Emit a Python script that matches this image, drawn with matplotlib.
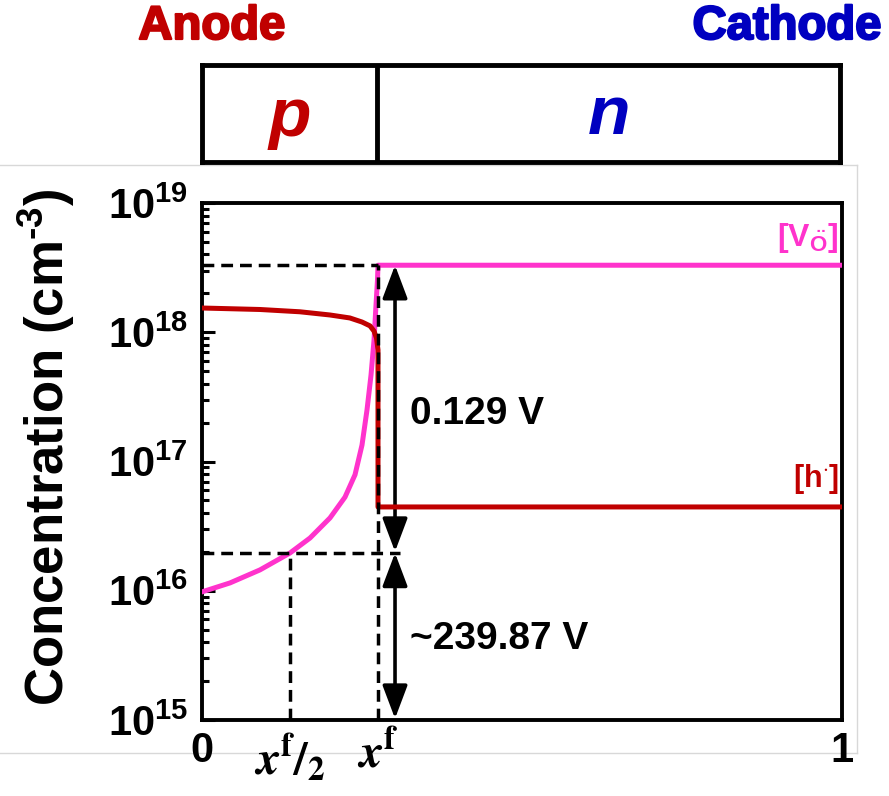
import matplotlib
matplotlib.use("Agg")
import matplotlib.pyplot as plt
import matplotlib.patheffects as pe
from matplotlib.lines import Line2D

plt.rcParams["font.family"] = ["Liberation Sans", "DejaVu Sans"]
plt.rcParams["font.weight"] = "bold"
plt.rcParams["axes.labelweight"] = "bold"
plt.rcParams["mathtext.fontset"] = "custom"
plt.rcParams["mathtext.rm"] = "Liberation Sans:bold"
plt.rcParams["mathtext.bf"] = "Liberation Sans:bold"
plt.rcParams["mathtext.it"] = "Liberation Sans:bold:italic"

RED = "#C00000"
MAGENTA = "#FF33CC"
BLUE = "#0000C0"

# junction position (fraction of film thickness)
X_F = 0.275

# hole concentration in the p region, then the step into n
hole_x = [0.0, 0.0906, 0.153, 0.2, 0.231, 0.25, 0.2625, 0.2688, 0.2727, X_F, X_F, 1.0]
hole_c = [1.54e18, 1.50e18, 1.44e18, 1.36e18, 1.29e18, 1.20e18, 1.12e18, 1.02e18,
          9.0e17, 7.3e17, 4.45e16, 4.45e16]

# oxygen vacancy concentration
vac_x = [0.0, 0.0438, 0.0906, 0.1375, 0.1688, 0.2, 0.2234, 0.2391, 0.25, 0.2578,
         0.2641, 0.2688, 0.2719, 0.2742, X_F, 1.0]
vac_c = [9.8e15, 1.15e16, 1.45e16, 1.96e16, 2.56e16, 3.66e16, 5.3e16, 7.9e16, 1.34e17,
         2.5e17, 4.67e17, 8.7e17, 1.63e18, 2.54e18, 3.3e18, 3.3e18]

vac_bulk = 3.3e18
vac_half = 1.96e16
arrow_x = 0.3016
y_lo, y_hi = 1e15, 1e19

decades = [1e15, 1e16, 1e17, 1e18, 1e19]
decade_labels = [r"$\mathbf{10^{15}}$", r"$\mathbf{10^{16}}$", r"$\mathbf{10^{17}}$",
                 r"$\mathbf{10^{18}}$", r"$\mathbf{10^{19}}$"]
x_ticks = [0.0, X_F / 2, X_F, 1.0]

W, H = 889, 796
fig = plt.figure(figsize=(W / 100, H / 100), dpi=100)

L, R, T, B = 202, 842, 203, 720
ax = fig.add_axes([L / W, 1 - B / H, (R - L) / W, (B - T) / H])

# concentration profiles
ax.plot(vac_x, vac_c, color=MAGENTA, lw=3.6, solid_joinstyle="round", zorder=3)
ax.plot(hole_x, hole_c, color=RED, lw=3.6, solid_joinstyle="round", zorder=4)

# guide lines
dash = dict(color="black", lw=2.5, ls=(0, (3.4, 2.0)), zorder=5)
ax.plot([0, X_F], [vac_bulk, vac_bulk], **dash)
ax.plot([X_F, X_F], [y_lo, vac_bulk], **dash)
ax.plot([0, 0.31], [vac_half, vac_half], **dash)
ax.plot([X_F / 2, X_F / 2], [y_lo, vac_half], **dash)

# potential drop arrows
arrow = dict(arrowstyle="<|-|>,head_length=0.85,head_width=0.32", color="black",
             lw=2.6, shrinkA=0, shrinkB=1, mutation_scale=24)
ax.annotate("", xy=(arrow_x, vac_half), xytext=(arrow_x, vac_bulk), arrowprops=arrow)
ax.annotate("", xy=(arrow_x, y_lo), xytext=(arrow_x, vac_half), arrowprops=arrow)
ax.text(0.325, 10 ** 17.37, "0.129 V", fontsize=28, va="center", ha="left")
ax.text(0.325, 10 ** 15.63, "~239.87 V", fontsize=28, va="center", ha="left")

ax.text(0.995, 10 ** 18.6, r"$\mathbf{[V_{\ddot{O}}]}$", color=MAGENTA,
        fontsize=23, ha="right", va="bottom")
ax.text(0.995, 10 ** 16.73, r"[h$^{\mathbf{\cdot}}$]", color=RED,
        fontsize=22, ha="right", va="bottom")

ax.set_yscale("log")
ax.set_ylim(y_lo, y_hi)
ax.set_xlim(0, 1)
ax.set_yticks(decades)
ax.set_yticklabels(decade_labels, fontsize=30)
ax.tick_params(axis="y", which="major", direction="in", length=9, width=2.2, pad=10)
ax.tick_params(axis="y", which="minor", direction="in", length=5, width=2.2)
ax.set_xticks(x_ticks)
xl = ax.set_xticklabels(["0", r"$\mathbfit{x}^{\mathbf{f}}/_{\mathbf{2}}$",
                         r"$\mathbfit{x}^{\mathbf{f}}$", "1"], fontsize=30)
for lab in xl[1:3]:
    lab.set_math_fontfamily("stix")
    lab.set_fontsize(34)
ax.tick_params(axis="x", length=0, pad=8)
for s in ax.spines.values():
    s.set_linewidth(2.8)

ax.set_ylabel("Concentration (cm$^{\\text{-}\\mathbf{3}}$)", fontsize=38)
ax.yaxis.set_label_coords(-0.196, 0.528)

# device schematic above the plot
bx = fig.add_axes([L / W, 1 - 162 / H, (R - 2 - L) / W, (162 - 65) / H])
bx.set_xlim(0, 1)
bx.set_ylim(0, 1)
bx.set_xticks([])
bx.set_yticks([])
for s in bx.spines.values():
    s.set_linewidth(3.5)
bx.axvline(X_F, color="black", lw=3.5)
bx.text(X_F / 2, 0.45, "p", color=RED, fontsize=50, style="italic",
        ha="center", va="center")
bx.text((X_F + 1) / 2, 0.47, "n", color=BLUE, fontsize=50, style="italic",
        ha="center", va="center")
t1 = fig.text(212 / W, 1 - 27 / H, "Anode", color=RED, fontsize=34, ha="center", va="center")
t2 = fig.text(787 / W, 1 - 27 / H, "Cathode", color=BLUE, fontsize=34, ha="center", va="center")
t1.set_path_effects([pe.withStroke(linewidth=1.6, foreground=RED)])
t2.set_path_effects([pe.withStroke(linewidth=1.6, foreground=BLUE)])

# faint panel frame
frame = dict(color="#d8d8d8", lw=1, zorder=0, transform=fig.transFigure)
fig.add_artist(Line2D([0, 857 / W], [1 - 165 / H, 1 - 165 / H], **frame))
fig.add_artist(Line2D([857 / W, 857 / W], [1 - 165 / H, 1 - 753 / H], **frame))
fig.add_artist(Line2D([0, 857 / W], [1 - 753 / H, 1 - 753 / H], **frame))

fig.savefig("out.png", dpi=100)
